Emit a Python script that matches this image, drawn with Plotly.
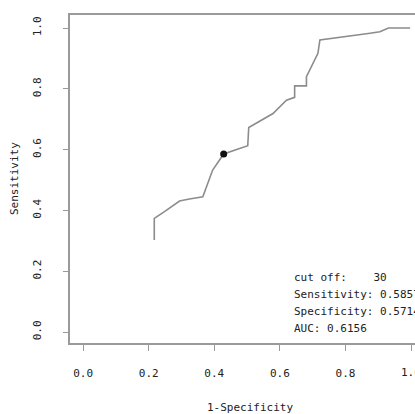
import plotly.graph_objects as go

# ROC curve points (1-Specificity, Sensitivity)
fpr = [0.217, 0.217, 0.248, 0.294, 0.324, 0.365, 0.395, 0.4286, 0.502, 0.505,
       0.579, 0.620, 0.645, 0.645, 0.681, 0.681, 0.716, 0.722, 0.875, 0.905,
       0.931, 0.997]
tpr = [0.303, 0.374, 0.396, 0.431, 0.4375, 0.445, 0.533, 0.5857, 0.613, 0.673,
       0.719, 0.763, 0.772, 0.810, 0.810, 0.840, 0.917, 0.961, 0.983, 0.988,
       1.0, 1.0]

cut_fpr = [0.4286]
cut_tpr = [0.5857]

tick_vals = [0.0, 0.2, 0.4, 0.6, 0.8, 1.0]
tick_text = ["0.0", "0.2", "0.4", "0.6", "0.8", "1.0"]

stat_lines = ["cut off:\u00a0\u00a0\u00a0\u00a030",
              "Sensitivity: 0.5857",
              "Specificity: 0.5714",
              "AUC: 0.6156"]

FONT = "DejaVu Sans Mono"
W, H = 415, 414
L, R, T, B = 70, 0, 15, 71
pw, ph = W - L - R, H - T - B

fig = go.Figure()
fig.add_trace(go.Scatter(x=fpr, y=tpr, mode="lines",
                         line=dict(color="#8c8c8c", width=1.6),
                         hoverinfo="skip", showlegend=False))
fig.add_trace(go.Scatter(x=cut_fpr, y=cut_tpr, mode="markers",
                         marker=dict(color="#111111", size=7),
                         hoverinfo="skip", showlegend=False))

def px2paper_x(px):
    return (px - L) / pw

def px2paper_y(py):
    return (H - B - py) / ph

annotations = []
for i, line in enumerate(stat_lines):
    annotations.append(dict(text=line, xref="paper", yref="paper",
                            x=px2paper_x(292), y=px2paper_y(277 + 17 * i),
                            xanchor="left", yanchor="middle", showarrow=False,
                            font=dict(family=FONT, size=11, color="#222222")))
annotations.append(dict(text="1-Specificity", xref="paper", yref="paper",
                        x=px2paper_x(250), y=px2paper_y(407),
                        xanchor="center", yanchor="middle", showarrow=False,
                        font=dict(family=FONT, size=11, color="#222222")))
annotations.append(dict(text="Sensitivity", xref="paper", yref="paper",
                        x=px2paper_x(14), y=px2paper_y(179), textangle=-90,
                        xanchor="center", yanchor="middle", showarrow=False,
                        font=dict(family=FONT, size=11, color="#222222")))
# last x tick label, partly outside the window as in the reference
annotations.append(dict(text=tick_text[-1], xref="x", yref="paper",
                        x=tick_vals[-1], y=px2paper_y(372),
                        xanchor="center", yanchor="middle", showarrow=False,
                        font=dict(family=FONT, size=11, color="#222222")))

fig.update_layout(
    width=W, height=H,
    margin=dict(l=L, r=R, t=T, b=B, pad=0),
    paper_bgcolor="white", plot_bgcolor="white",
    annotations=annotations,
    xaxis=dict(range=[-0.04, 1.012], tickvals=tick_vals, ticktext=tick_text,
               showgrid=False, zeroline=False, showline=True, mirror=True,
               linecolor="#9a9a9a", linewidth=1.5,
               ticks="outside", ticklen=6, tickcolor="#9a9a9a",
               ticklabelstandoff=13,
               tickfont=dict(family=FONT, size=11, color="#222222")),
    yaxis=dict(range=[-0.036, 1.043], tickvals=tick_vals, ticktext=tick_text,
               showgrid=False, zeroline=False, showline=True, mirror=False,
               linecolor="#9a9a9a", linewidth=1.5,
               ticks="outside", ticklen=5, tickcolor="#9a9a9a",
               tickangle=-90, ticklabelstandoff=18,
               tickfont=dict(family=FONT, size=11, color="#222222")),
)

fig.write_html("out.html",
               config={"displayModeBar": False},
               post_script="document.body.style.margin='0';"
                           "document.body.style.overflow='hidden';")
